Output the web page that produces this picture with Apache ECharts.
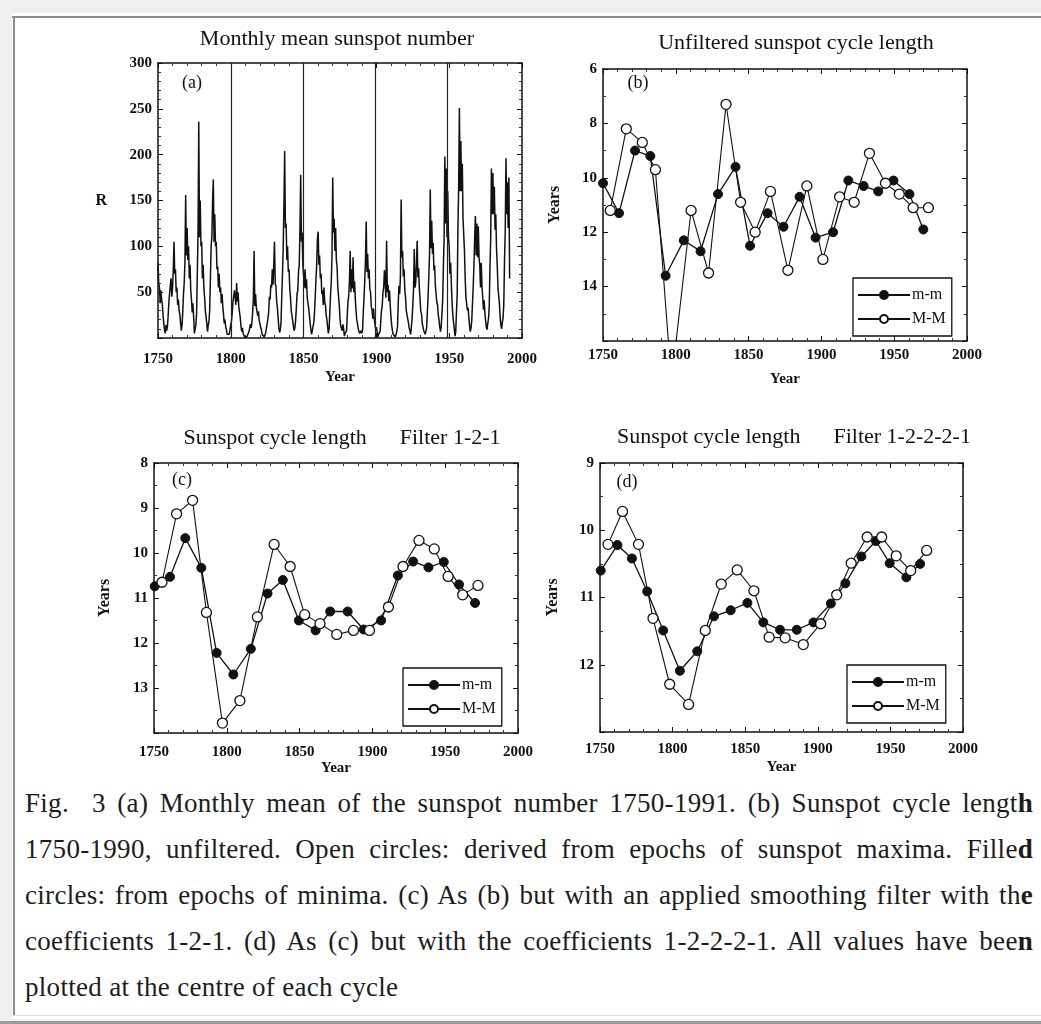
<!DOCTYPE html>
<html><head><meta charset="utf-8">
<script src="https://cdn.jsdelivr.net/npm/echarts@6.0.0/dist/echarts.min.js"></script>
<style>
html,body{margin:0;padding:0;background:#efefef;width:1041px;height:1024px;overflow:hidden;}
#sheet{position:absolute;left:12px;top:13px;width:1029px;height:1006px;background:#fff;}
#chart{position:absolute;left:0;top:0;width:1041px;height:778px;}
.rule{position:absolute;background:#8c8c8c;}
#caption{position:absolute;left:25px;top:780px;width:1008px;font-family:"Liberation Serif","Times New Roman",serif;font-size:27px;letter-spacing:0.3px;line-height:46px;color:#1c1c1c;}
#caption div{text-align:justify;text-align-last:justify;white-space:nowrap;}
#caption div.last{text-align:left;text-align-last:left;}
</style></head><body>
<div id="sheet"></div>
<div class="rule" style="left:12px;top:16px;width:1029px;height:2px"></div>
<div class="rule" style="left:13px;top:16px;width:2px;height:999px"></div>
<div class="rule" style="left:12px;top:1015px;width:1029px;height:1px;background:#dcdcdc"></div>
<div class="rule" style="left:0;top:1021px;width:1041px;height:3px;background:#9a9a9a"></div>
<div id="chart"></div>
<div id="caption">
<div>Fig.&nbsp; 3 (a) Monthly mean of the sunspot number 1750-1991. (b) Sunspot cycle lengt<b>h</b></div>
<div>1750-1990, unfiltered. Open circles: derived from epochs of sunspot maxima. Fille<b>d</b></div>
<div>circles: from epochs of minima. (c) As (b) but with an applied smoothing filter with th<b>e</b></div>
<div>coefficients 1-2-1. (d) As (c) but with the coefficients 1-2-2-2-1. All values have bee<b>n</b></div>
<div class="last">plotted at the centre of each cycle</div>
</div>
<script>
// ---------- DATA ----------
// (a) monthly mean sunspot number, two readings per year starting 1750
const sunspotStartYear = 1750;
const sunspotSamplesPerYear = 2;
const sunspotR = [
82,60, 55,38, 52,42, 36,24, 16,8, 5,14, 8,13, 25,40, 40,58, 65,45,
55,75, 105,70, 75,50, 55,36, 42,30, 26,16, 8,14, 28,48, 60,82, 156,90,
120,85, 100,65, 80,52, 42,28, 38,22, 5,10, 14,26, 70,115, 236,110, 150,100,
105,65, 80,55, 45,30, 28,16, 7,14, 18,30, 65,100, 110,150, 173,105, 135,100,
105,75, 78,55, 70,50, 55,38, 48,34, 26,16, 20,12, 9,4, 2,6, 4,10,
10,19, 28,40, 38,52, 50,36, 60,40, 50,34, 34,22, 13,7, 11,5, 4,1,
0,0, 1,2, 3,7, 9,15, 11,17, 28,43, 95,35, 48,34, 36,24, 29,19,
19,12, 9,4, 2,6, 1,3, 6,11, 12,21, 28,45, 42,58, 55,75, 58,80,
105,60, 56,40, 33,22, 11,6, 9,17, 45,70, 100,145, 204,120, 125,85, 100,72,
75,54, 44,30, 29,19, 13,8, 11,19, 32,48, 52,72, 80,118, 178,105, 115,80,
78,55, 75,54, 64,44, 46,32, 25,16, 9,4, 2,6, 17,28, 45,65, 80,108,
116,80, 90,65, 70,48, 52,36, 55,39, 36,25, 20,12, 5,10, 28,47, 62,88,
175,115, 130,95, 120,85, 78,55, 53,36, 21,13, 14,8, 15,10, 2,5, 4,8,
25,40, 46,63, 95,50, 75,54, 88,50, 62,43, 30,20, 16,10, 9,5, 4,8,
5,9, 28,44, 62,85, 127,72, 92,65, 75,53, 50,34, 31,21, 32,21, 15,9,
12,7, 1,4, 3,7, 18,30, 35,50, 55,74, 64,44, 106,50, 58,40, 52,36,
23,14, 8,4, 2,5, 1,2, 7,12, 38,57, 48,67, 151,88, 95,67, 75,53,
45,30, 31,21, 17,11, 8,4, 12,21, 36,53, 97,55, 60,80, 106,66, 76,54,
42,29, 26,16, 14,8, 8,4, 6,11, 28,45, 68,92, 162,98, 128,92, 104,74,
79,57, 56,39, 36,25, 20,12, 7,12, 26,41, 78,108, 198,125, 185,110, 160,110,
100,70, 82,58, 38,25, 17,10, 2,7, 29,48, 120,165, 251,160, 215,160, 190,130,
132,94, 64,44, 45,30, 33,22, 13,7, 11,19, 38,56, 80,110, 133,90, 125,88,
122,88, 79,55, 82,57, 45,31, 41,28, 19,12, 9,16, 21,34, 78,108, 185,135,
180,135, 165,118, 135,98, 79,55, 55,37, 22,14, 10,17, 22,37, 85,118, 196,135,
170,120, 175,65
];
// vertical strokes crossing panel (a)
const artifactYears = [1800.5, 1849.5, 1899, 1949];

// (b) unfiltered cycle length
const bMinYears  = [1750, 1761, 1772, 1782.5, 1793, 1805.5, 1817, 1829, 1841, 1851, 1863, 1874, 1885, 1896, 1908, 1918.5, 1929, 1939, 1949.5, 1960.5, 1970];
const bMinValues = [10.2, 11.3, 9.0, 9.2, 13.6, 12.3, 12.7, 10.6, 9.6, 12.5, 11.3, 11.8, 10.7, 12.2, 12.0, 10.1, 10.3, 10.5, 10.1, 10.6, 11.9];
const bMaxYears  = [1755, 1766, 1777, 1786, 1797, 1810.5, 1822.5, 1834.5, 1844.5, 1854.5, 1865, 1877, 1890, 1901, 1912.5, 1922.5, 1933, 1944, 1953.5, 1963, 1973.5];
const bMaxValues = [11.2, 8.2, 8.7, 9.7, 17.5, 11.2, 13.5, 7.3, 10.9, 12.0, 10.5, 13.4, 10.3, 13.0, 10.7, 10.9, 9.1, 10.2, 10.6, 11.1, 11.1];

// (c) filter 1-2-1
const cMinYears  = [1750.5, 1761, 1771.5, 1782.5, 1793, 1804.5, 1816.5, 1828, 1838.5, 1849.5, 1861, 1871, 1883, 1894, 1906, 1917.5, 1928, 1938.5, 1949, 1959.5, 1970.5];
const cMinValues = [10.74, 10.53, 9.67, 10.33, 12.22, 12.7, 12.13, 10.9, 10.6, 11.5, 11.72, 11.3, 11.3, 11.7, 11.5, 10.5, 10.19, 10.32, 10.2, 10.7, 11.11];
const cMaxYears  = [1755.5, 1765.5, 1776.5, 1786, 1797, 1809, 1821, 1832.5, 1843.5, 1853.5, 1864, 1875.5, 1887, 1898, 1911, 1921, 1932, 1942.5, 1952, 1962, 1972.5];
const cMaxValues = [10.65, 9.13, 8.83, 11.32, 13.78, 13.28, 11.42, 9.81, 10.3, 11.37, 11.57, 11.81, 11.72, 11.72, 11.2, 10.3, 9.72, 9.91, 10.52, 10.93, 10.72];

// (d) filter 1-2-2-2-1
const dMinYears  = [1750.5, 1762, 1772, 1782.5, 1793.5, 1805, 1817, 1828.5, 1840, 1851.5, 1862.5, 1874, 1885.5, 1897, 1909, 1919, 1930, 1940, 1949.5, 1961, 1970.5];
const dMinValues = [10.6, 10.22, 10.42, 10.91, 11.49, 12.09, 11.8, 11.28, 11.19, 11.08, 11.37, 11.48, 11.48, 11.37, 11.09, 10.79, 10.39, 10.16, 10.49, 10.7, 10.5];
const dMaxYears  = [1755.5, 1765.5, 1776.5, 1786.5, 1798, 1811, 1822.5, 1833.5, 1844.5, 1856, 1866.5, 1877.5, 1890, 1902, 1913, 1923, 1934, 1944, 1954, 1964, 1975];
const dMaxValues = [10.21, 9.72, 10.21, 11.31, 12.29, 12.59, 11.49, 10.8, 10.59, 10.9, 11.59, 11.6, 11.7, 11.39, 10.96, 10.49, 10.1, 10.1, 10.38, 10.6, 10.3];

const panelTitles = ['Monthly mean sunspot number', 'Unfiltered sunspot cycle length',
  'Sunspot cycle length      Filter 1-2-1', 'Sunspot cycle length      Filter 1-2-2-2-1'];
const panelTags = ['(a)', '(b)', '(c)', '(d)'];
const seriesNames = ['m-m', 'M-M'];

// ---------- CHART ----------
const FONT = '"Liberation Serif","Times New Roman",serif';
const INK = '#111';
const chart = echarts.init(document.getElementById('chart'), null, {renderer: 'canvas'});

const grids = [
  {left: 158, top: 63, width: 364, height: 275},
  {left: 603, top: 69, width: 364, height: 272},
  {left: 154, top: 463, width: 364, height: 270},
  {left: 600, top: 463, width: 363, height: 269}
];
const yCfg = [
  {min: 0, max: 300, interval: 50, inverse: false, minor: 5, name: 'R', rot: 0, gap: 51, hideMin: true, hideMax: false},
  {min: 6, max: 16, interval: 2, inverse: true, minor: 2, name: 'Years', rot: 90, gap: 40, hideMin: false, hideMax: true},
  {min: 8, max: 14, interval: 1, inverse: true, minor: 2, name: 'Years', rot: 90, gap: 41, hideMin: false, hideMax: true},
  {min: 9, max: 13, interval: 1, inverse: true, minor: 2, name: 'Years', rot: 90, gap: 39, hideMin: false, hideMax: true}
];
const xCfg = [
  {margin: 14, gap: 32},
  {margin: 7, gap: 31},
  {margin: 12, gap: 27},
  {margin: 10, gap: 28}
];

const lineAxis = {show: true, onZero: false, lineStyle: {color: INK, width: 1.5}};
const labelStyle = {fontFamily: FONT, fontSize: 15, fontWeight: 'bold', color: INK, formatter: v => String(v)};
const nameStyle = {fontFamily: FONT, fontSize: 15, fontWeight: 'bold', color: INK};

const xAxis = [], yAxis = [];
grids.forEach((g, i) => {
  const base = {
    type: 'value', gridIndex: i, min: 1750, max: 2000, interval: 50,
    axisLine: lineAxis, splitLine: {show: false},
    axisTick: {show: true, inside: true, length: 5, lineStyle: {color: INK, width: 1}},
    minorTick: {show: true, splitNumber: 5, length: 3, lineStyle: {color: '#333', width: 1}},
    minorSplitLine: {show: false}
  };
  xAxis.push(Object.assign({}, base, {
    position: 'bottom',
    axisLabel: Object.assign({margin: xCfg[i].margin}, labelStyle),
    name: 'Year', nameLocation: 'middle', nameGap: xCfg[i].gap,
    nameTextStyle: nameStyle
  }));
  xAxis.push(Object.assign({}, base, {position: 'top', axisLabel: {show: false}}));
  const c = yCfg[i];
  const ybase = {
    type: 'value', gridIndex: i, min: c.min, max: c.max, interval: c.interval, inverse: c.inverse,
    axisLine: lineAxis, splitLine: {show: false},
    axisTick: {show: true, inside: true, length: 5, lineStyle: {color: INK, width: 1}},
    minorTick: {show: true, splitNumber: c.minor, length: 3, lineStyle: {color: '#333', width: 1}},
    minorSplitLine: {show: false}
  };
  yAxis.push(Object.assign({}, ybase, {
    position: 'left',
    axisLabel: Object.assign({margin: 6, showMinLabel: !c.hideMin, showMaxLabel: !c.hideMax}, labelStyle),
    name: c.name, nameLocation: 'middle', nameRotate: c.rot, nameGap: c.gap,
    nameTextStyle: Object.assign({}, nameStyle, {fontSize: 16})
  }));
  yAxis.push(Object.assign({}, ybase, {position: 'right', axisLabel: {show: false}}));
});

const sunspotData = sunspotR.map((v, k) => [sunspotStartYear + k / sunspotSamplesPerYear, v]);
const pairs = (xs, ys) => xs.map((x, k) => [x, ys[k]]);

const filledStyle = {
  type: 'line', symbol: 'circle', symbolSize: 9, clip: true,
  itemStyle: {color: INK, borderColor: INK, borderWidth: 1},
  lineStyle: {color: INK, width: 1.3}, emphasis: {disabled: true}
};
const openStyle = {
  type: 'line', symbol: 'circle', symbolSize: 10, clip: true,
  itemStyle: {color: '#fff', borderColor: INK, borderWidth: 1.3},
  lineStyle: {color: INK, width: 1.1}, emphasis: {disabled: true}
};

const series = [{
  type: 'line', name: 'R', xAxisIndex: 0, yAxisIndex: 0, data: sunspotData,
  showSymbol: false, symbol: 'none', clip: true, sampling: 'none',
  lineStyle: {color: INK, width: 1.5}, emphasis: {disabled: true},
  markLine: {
    silent: true, symbol: ['none', 'none'], label: {show: false},
    lineStyle: {color: '#222', type: 'solid', width: 1.2},
    data: artifactYears.map(y => ({xAxis: y}))
  }
}];
const panelData = [
  [pairs(bMinYears, bMinValues), pairs(bMaxYears, bMaxValues)],
  [pairs(cMinYears, cMinValues), pairs(cMaxYears, cMaxValues)],
  [pairs(dMinYears, dMinValues), pairs(dMaxYears, dMaxValues)]
];
panelData.forEach((pd, k) => {
  const gi = k + 1;
  series.push(Object.assign({}, filledStyle, {name: seriesNames[0], xAxisIndex: gi * 2, yAxisIndex: gi * 2, data: pd[0]}));
  series.push(Object.assign({}, openStyle, {name: seriesNames[1], xAxisIndex: gi * 2, yAxisIndex: gi * 2, data: pd[1]}));
});

const legendPos = [{left: 853, top: 278}, {left: 403, top: 668}, {left: 847, top: 665}];
const legend = legendPos.map(p => ({
  left: p.left, top: p.top, orient: 'vertical', data: seriesNames,
  itemWidth: 52, itemHeight: 10, itemGap: 8, padding: [9, 6, 9, 4],
  borderColor: INK, borderWidth: 1.3, backgroundColor: '#fff',
  textStyle: {fontFamily: FONT, fontSize: 16, color: INK, padding: [0, 0, 0, -3]},
  selectedMode: false
}));

const titlePos = [[337, 39], [796, 43], [342, 438], [794, 437]];
const tagPos = [[192, 83], [638, 83], [182, 480], [627, 482]];
const graphic = [];
titlePos.forEach((p, i) => graphic.push({
  type: 'text', x: p[0], y: p[1], silent: true,
  style: {text: panelTitles[i], fill: INK, font: '22px ' + FONT, textAlign: 'center', textVerticalAlign: 'middle'}
}));
tagPos.forEach((p, i) => graphic.push({
  type: 'text', x: p[0], y: p[1], silent: true,
  style: {text: panelTags[i], fill: INK, font: '18px ' + FONT, textAlign: 'center', textVerticalAlign: 'middle'}
}));

chart.setOption({
  animation: false,
  backgroundColor: 'transparent',
  grid: grids.map(g => Object.assign({show: false}, g)),
  xAxis, yAxis, series, legend, graphic
});
</script>
</body></html>
